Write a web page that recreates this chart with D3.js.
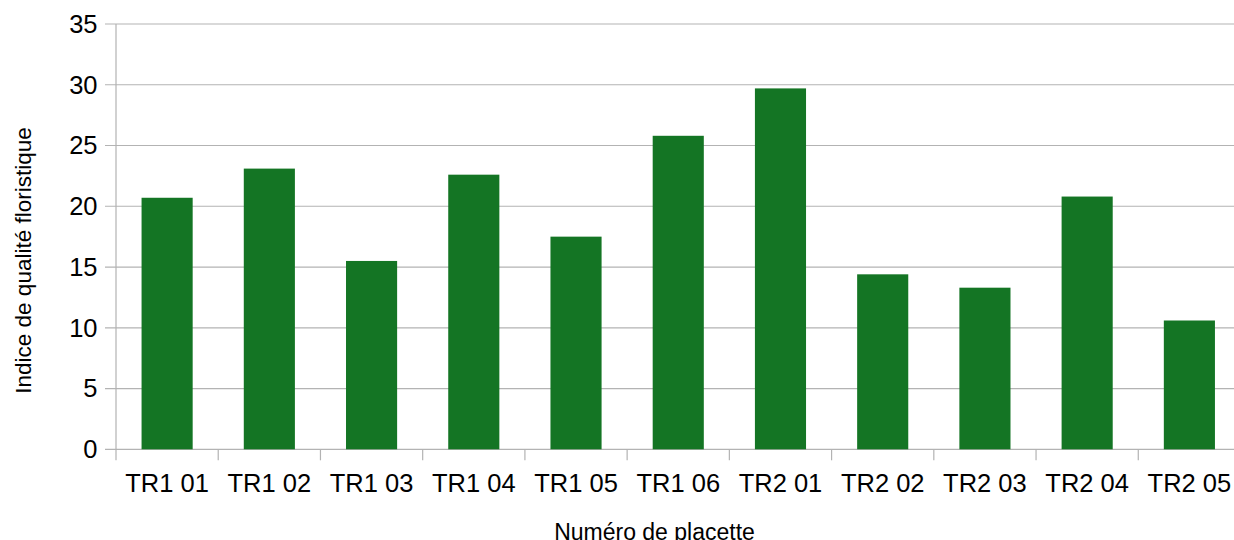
<!DOCTYPE html>
<html>
<head>
<meta charset="utf-8">
<script src="https://cdn.jsdelivr.net/npm/d3@7"></script>
<style>
  html, body { margin: 0; padding: 0; background: #fff; }
  svg { display: block; font-family: "Liberation Sans", Arial, sans-serif; }
</style>
</head>
<body>
<svg id="chart" width="1234" height="540"></svg>
<script>
// Plot numbers and their floristic quality index
const categories = ["TR1 01", "TR1 02", "TR1 03", "TR1 04", "TR1 05", "TR1 06",
                    "TR2 01", "TR2 02", "TR2 03", "TR2 04", "TR2 05"];
const values = [20.7, 23.1, 15.5, 22.6, 17.5, 25.8, 29.7, 14.4, 13.3, 20.8, 10.6];
const yTicks = [0, 5, 10, 15, 20, 25, 30, 35];

(function () {
  const svg = d3.select("#chart");
  const plotLeft = 116, plotRight = 1240.5, plotTop = 24, plotBottom = 449.3;
  const gridColor = "#b3b3b3";
  const barColor = "#147524";

  const x = d3.scaleBand().domain(categories).range([plotLeft, plotRight])
    .paddingInner(0.5).paddingOuter(0.25);
  const y = d3.scaleLinear().domain([0, 35]).range([plotBottom, plotTop]);

  // horizontal gridlines with short outer ticks
  svg.append("g")
    .selectAll("line")
    .data(yTicks)
    .join("line")
    .attr("x1", plotLeft - 11).attr("x2", plotRight)
    .attr("y1", d => y(d)).attr("y2", d => y(d))
    .attr("stroke", gridColor).attr("stroke-width", 1.2);

  // y tick labels
  svg.append("g")
    .selectAll("text")
    .data(yTicks)
    .join("text")
    .attr("x", 97.5)
    .attr("y", d => y(d))
    .attr("dy", "0.35em")
    .attr("text-anchor", "end")
    .attr("font-size", 25.5)
    .attr("fill", "#000")
    .text(d => d);

  // bars
  svg.append("g")
    .selectAll("rect")
    .data(values)
    .join("rect")
    .attr("x", (d, i) => x(categories[i]))
    .attr("width", x.bandwidth())
    .attr("y", d => y(d))
    .attr("height", d => y(0) - y(d))
    .attr("fill", barColor);

  // vertical axis line
  svg.append("line")
    .attr("x1", plotLeft).attr("x2", plotLeft)
    .attr("y1", plotTop).attr("y2", plotBottom + 11)
    .attr("stroke", gridColor).attr("stroke-width", 1.2);

  // category separators below the baseline
  const sep = d3.range(1, categories.length + 1)
    .map(i => plotLeft + i * (plotRight - plotLeft) / categories.length);
  svg.append("g")
    .selectAll("line")
    .data(sep)
    .join("line")
    .attr("x1", d => d).attr("x2", d => d)
    .attr("y1", plotBottom).attr("y2", plotBottom + 11)
    .attr("stroke", gridColor).attr("stroke-width", 1.2);

  // x tick labels
  svg.append("g")
    .selectAll("text")
    .data(categories)
    .join("text")
    .attr("x", d => x(d) + x.bandwidth() / 2)
    .attr("y", 491.5)
    .attr("text-anchor", "middle")
    .attr("font-size", 25.5)
    .attr("fill", "#000")
    .text(d => d);

  // axis titles
  svg.append("text")
    .attr("x", 654.5).attr("y", 539.5)
    .attr("text-anchor", "middle")
    .attr("font-size", 23)
    .attr("fill", "#000")
    .text("Numéro de placette");

  svg.append("text")
    .attr("transform", "translate(31,260.5) rotate(-90)")
    .attr("text-anchor", "middle")
    .attr("font-size", 22.5)
    .attr("fill", "#000")
    .text("Indice de qualité floristique");
})();
</script>
</body>
</html>
